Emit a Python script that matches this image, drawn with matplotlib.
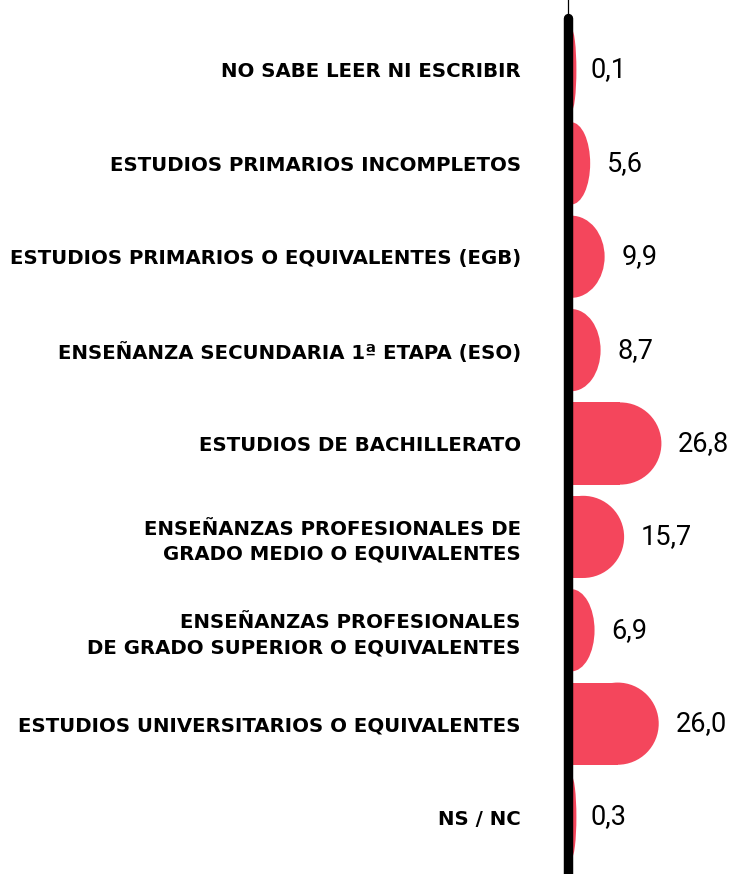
"""Nivel de estudios: horizontal pill-shaped bars with value labels."""

import matplotlib

matplotlib.use("Agg")
import matplotlib.pyplot as plt
from matplotlib.patches import Ellipse

categories = [
    "NO SABE LEER NI ESCRIBIR",
    "ESTUDIOS PRIMARIOS INCOMPLETOS",
    "ESTUDIOS PRIMARIOS O EQUIVALENTES (EGB)",
    "ENSEÑANZA SECUNDARIA 1ª ETAPA (ESO)",
    "ESTUDIOS DE BACHILLERATO",
    "ENSEÑANZAS PROFESIONALES DE\nGRADO MEDIO O EQUIVALENTES",
    "ENSEÑANZAS PROFESIONALES\nDE GRADO SUPERIOR O EQUIVALENTES",
    "ESTUDIOS UNIVERSITARIOS O EQUIVALENTES",
    "NS / NC",
]
values = [0.1, 5.6, 9.9, 8.7, 26.8, 15.7, 6.9, 26.0, 0.3]

BAR_COLOR = "#F4465C"
W, H, DPI = 736, 874, 100
AX_LEFT_PX, AX_TOP_PX = 568, 18
XMIN, XMAX = -1.0, 49.0
BAR_H = 0.88
CAP_PX = 41      # radius of the rounded end, in pixels
MIN_CAP = 1.5    # smallest visible width of a bar end, in data units

fig = plt.figure(figsize=(W / DPI, H / DPI), dpi=DPI)
ax = fig.add_axes([AX_LEFT_PX / W, 0, 1 - AX_LEFT_PX / W, 1 - AX_TOP_PX / H])

# spine first: moving it resets the tick labels
for side in ("top", "right", "bottom"):
    ax.spines[side].set_visible(False)
ax.spines["left"].set_position(("data", XMIN))
ax.spines["left"].set_linewidth(6.8)
ax.spines["left"].set_capstyle("round")

ax.set_xlim(XMIN, XMAX)
ax.set_ylim(8.61, -(70 - AX_TOP_PX) / 93.4)

px_per_unit = (W - AX_LEFT_PX) / (XMAX - XMIN)
cap = CAP_PX / px_per_unit

for i, v in enumerate(values):
    reach = max(v, MIN_CAP)
    rx = min(reach, cap)
    ax.barh(i, reach - rx, height=BAR_H, left=0, color=BAR_COLOR, linewidth=0)
    ax.add_patch(Ellipse((reach - rx, i), 2 * rx, BAR_H, color=BAR_COLOR,
                         linewidth=0))
    ax.annotate(f"{v:.1f}".replace(".", ","), xy=(max(v, MIN_CAP * 0.5), i),
                xytext=(12, 0), textcoords="offset points", va="center",
                ha="left", fontsize=19.5, family="Roboto", fontweight="normal",
                color="black")

ax.set_yticks(range(len(categories)))
ax.set_yticklabels(categories, family="DejaVu Sans", fontweight="bold",
                   fontsize=14.2, linespacing=1.4, ha="right")
ax.tick_params(axis="y", length=0, pad=34)
ax.set_xticks([])

# thin guide line above the thick axis
ax.plot([XMIN, XMIN], [1.0, 1.05], transform=ax.get_xaxis_transform(),
        color="black", linewidth=0.9, clip_on=False, zorder=1)

fig.savefig("out.png", dpi=DPI)
